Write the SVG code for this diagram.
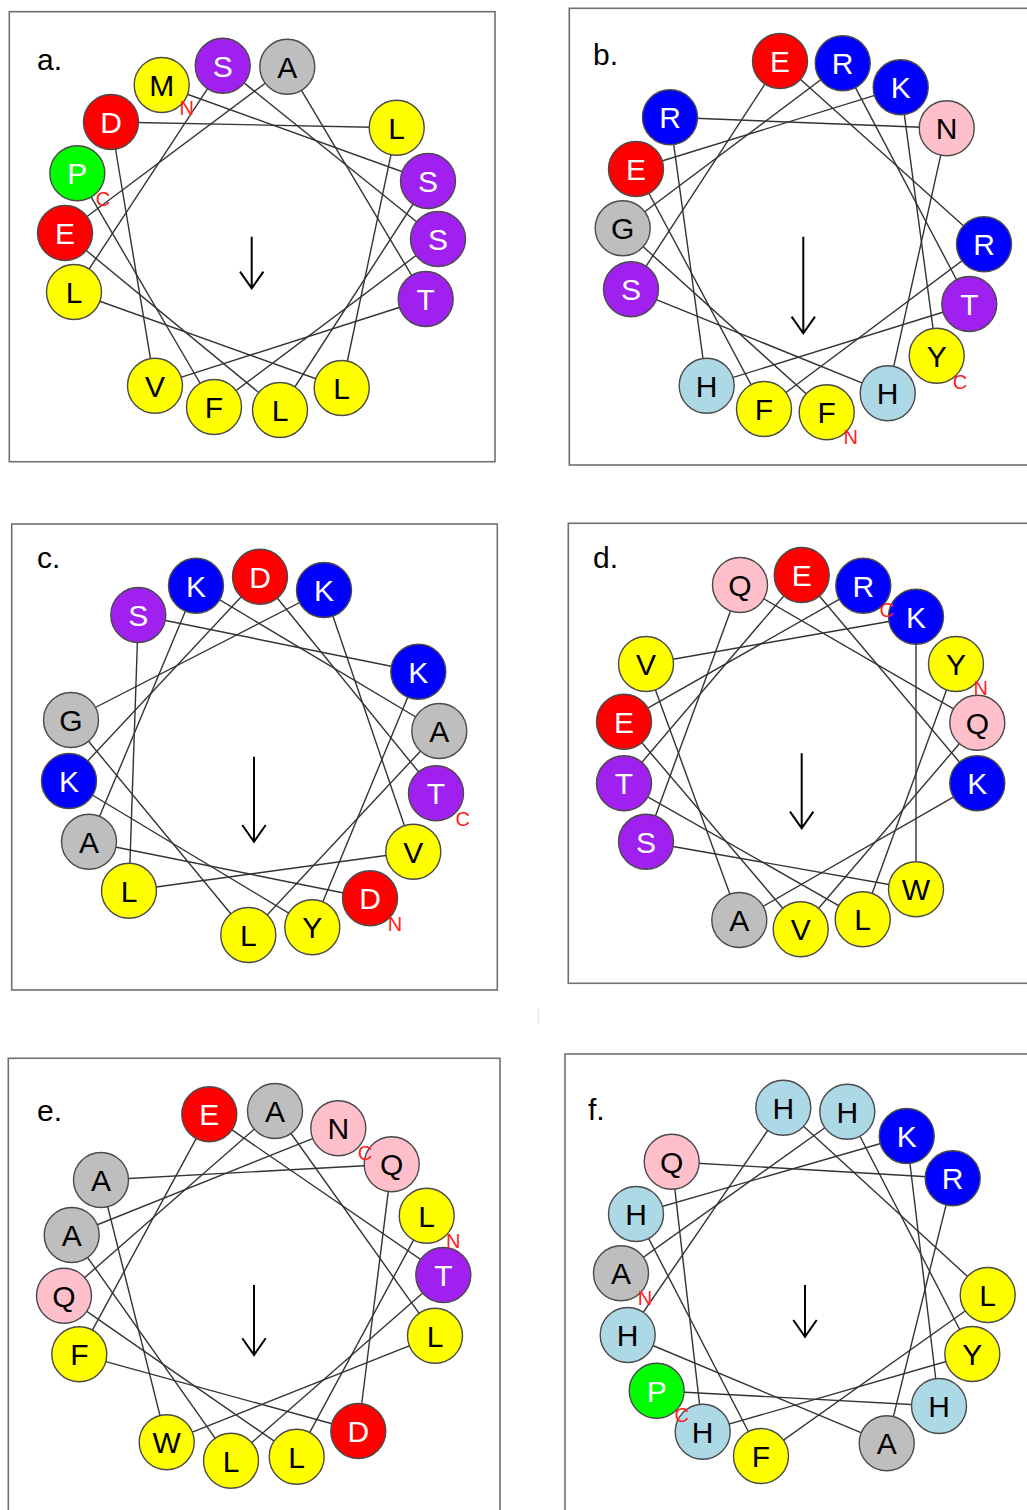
<svg xmlns="http://www.w3.org/2000/svg" width="1027" height="1510" viewBox="0 0 1027 1510">
<style>
.bg{fill:#fff}
.box{fill:none;stroke:#707070;stroke-width:1.6}
.lbl{font-family:"Liberation Sans",Arial,sans-serif;font-size:30px;fill:#000}
.con line{stroke:#333;stroke-width:1.4}
.res circle{stroke:#4a4a4a;stroke-width:1.4}
.res text{font-family:"Liberation Sans",Arial,sans-serif;font-size:30px;text-anchor:middle}
.y circle{fill:#FFFF00}.y text{fill:#000}
.r circle{fill:#FF0000}.r text{fill:#fff}
.b circle{fill:#0000FF}.b text{fill:#fff}
.p circle{fill:#A020F0}.p text{fill:#fff}
.g circle{fill:#BEBEBE}.g text{fill:#000}
.gr circle{fill:#00FF00}.gr text{fill:#fff}
.lb circle{fill:#ADD8E6}.lb text{fill:#000}
.pk circle{fill:#FFC0CB}.pk text{fill:#000}
.term{font-family:"Liberation Sans",Arial,sans-serif;font-size:20px;fill:#FF2020;text-anchor:middle}
.arrow{stroke:#000;stroke-width:2;fill:none}
</style>
<rect class="bg" x="0" y="0" width="1027" height="1510"/>
<line x1="538.5" y1="1009" x2="538.5" y2="1024" stroke="#e4e4e4" stroke-width="1.5"/>

<!-- Panel a -->
<g id="panel-a">
<rect class="box" x="9.3" y="11.7" width="485.7" height="450"/>
<text class="lbl" x="37" y="70">a.</text>
<g id="a-connectors" class="con">
<line x1="161.7" y1="85" x2="428" y2="181"/>
<line x1="428" y1="181" x2="280" y2="410"/>
<line x1="280" y1="410" x2="65" y2="233"/>
<line x1="65" y1="233" x2="287.3" y2="66.7"/>
<line x1="287.3" y1="66.7" x2="425.7" y2="299"/>
<line x1="425.7" y1="299" x2="155" y2="385.7"/>
<line x1="155" y1="385.7" x2="111" y2="122"/>
<line x1="111" y1="122" x2="396.7" y2="127.7"/>
<line x1="396.7" y1="127.7" x2="341.7" y2="388"/>
<line x1="341.7" y1="388" x2="74" y2="292"/>
<line x1="74" y1="292" x2="222.7" y2="65.7"/>
<line x1="222.7" y1="65.7" x2="438" y2="239"/>
<line x1="438" y1="239" x2="214" y2="407"/>
<line x1="214" y1="407" x2="77.3" y2="173.3"/>
</g>
<path class="arrow" d="M251.7 236.7V288.3M240 271.7L251.7 288.3L263.4 271.7"/>
<g id="a15" class="res gr" transform="translate(77.3,173.3)"><circle r="27.5"/><text y="10.8">P</text></g>
<g id="a14" class="res y" transform="translate(214,407)"><circle r="27.5"/><text y="10.8">F</text></g>
<g id="a13" class="res p" transform="translate(438,239)"><circle r="27.5"/><text y="10.8">S</text></g>
<g id="a12" class="res p" transform="translate(222.7,65.7)"><circle r="27.5"/><text y="10.8">S</text></g>
<g id="a11" class="res y" transform="translate(74,292)"><circle r="27.5"/><text y="10.8">L</text></g>
<g id="a10" class="res y" transform="translate(341.7,388)"><circle r="27.5"/><text y="10.8">L</text></g>
<g id="a9" class="res y" transform="translate(396.7,127.7)"><circle r="27.5"/><text y="10.8">L</text></g>
<g id="a8" class="res r" transform="translate(111,122)"><circle r="27.5"/><text y="10.8">D</text></g>
<g id="a7" class="res y" transform="translate(155,385.7)"><circle r="27.5"/><text y="10.8">V</text></g>
<g id="a6" class="res p" transform="translate(425.7,299)"><circle r="27.5"/><text y="10.8">T</text></g>
<g id="a5" class="res g" transform="translate(287.3,66.7)"><circle r="27.5"/><text y="10.8">A</text></g>
<g id="a4" class="res r" transform="translate(65,233)"><circle r="27.5"/><text y="10.8">E</text></g>
<g id="a3" class="res y" transform="translate(280,410)"><circle r="27.5"/><text y="10.8">L</text></g>
<g id="a2" class="res p" transform="translate(428,181)"><circle r="27.5"/><text y="10.8">S</text></g>
<g id="a1" class="res y" transform="translate(161.7,85)"><circle r="27.5"/><text y="10.8">M</text></g>
<text class="term" x="186.7" y="115">N</text>
<text class="term" x="103" y="206">C</text>
</g>

<!-- Panel b -->
<g id="panel-b">
<rect class="box" x="569.3" y="8.3" width="480" height="456.7"/>
<text class="lbl" x="593" y="65">b.</text>
<g id="b-connectors" class="con">
<line x1="826.7" y1="412.3" x2="622.7" y2="228.3"/>
<line x1="622.7" y1="228.3" x2="842.7" y2="63.3"/>
<line x1="842.7" y1="63.3" x2="969.3" y2="304"/>
<line x1="969.3" y1="304" x2="706.7" y2="385.7"/>
<line x1="706.7" y1="385.7" x2="670" y2="117.3"/>
<line x1="670" y1="117.3" x2="946.7" y2="128.3"/>
<line x1="946.7" y1="128.3" x2="887.7" y2="393.3"/>
<line x1="887.7" y1="393.3" x2="631" y2="289.3"/>
<line x1="631" y1="289.3" x2="780" y2="61"/>
<line x1="780" y1="61" x2="984" y2="244.3"/>
<line x1="984" y1="244.3" x2="764" y2="409"/>
<line x1="764" y1="409" x2="636" y2="169"/>
<line x1="636" y1="169" x2="900.7" y2="87.3"/>
<line x1="900.7" y1="87.3" x2="936.7" y2="355.7"/>
</g>
<path class="arrow" d="M803.3 236.7V333.3M791.6 316.7L803.3 333.3L815 316.7"/>
<g id="b15" class="res y" transform="translate(936.7,355.7)"><circle r="27.5"/><text y="10.8">Y</text></g>
<g id="b14" class="res b" transform="translate(900.7,87.3)"><circle r="27.5"/><text y="10.8">K</text></g>
<g id="b13" class="res r" transform="translate(636,169)"><circle r="27.5"/><text y="10.8">E</text></g>
<g id="b12" class="res y" transform="translate(764,409)"><circle r="27.5"/><text y="10.8">F</text></g>
<g id="b11" class="res b" transform="translate(984,244.3)"><circle r="27.5"/><text y="10.8">R</text></g>
<g id="b10" class="res r" transform="translate(780,61)"><circle r="27.5"/><text y="10.8">E</text></g>
<g id="b9" class="res p" transform="translate(631,289.3)"><circle r="27.5"/><text y="10.8">S</text></g>
<g id="b8" class="res lb" transform="translate(887.7,393.3)"><circle r="27.5"/><text y="10.8">H</text></g>
<g id="b7" class="res pk" transform="translate(946.7,128.3)"><circle r="27.5"/><text y="10.8">N</text></g>
<g id="b6" class="res b" transform="translate(670,117.3)"><circle r="27.5"/><text y="10.8">R</text></g>
<g id="b5" class="res lb" transform="translate(706.7,385.7)"><circle r="27.5"/><text y="10.8">H</text></g>
<g id="b4" class="res p" transform="translate(969.3,304)"><circle r="27.5"/><text y="10.8">T</text></g>
<g id="b3" class="res b" transform="translate(842.7,63.3)"><circle r="27.5"/><text y="10.8">R</text></g>
<g id="b2" class="res g" transform="translate(622.7,228.3)"><circle r="27.5"/><text y="10.8">G</text></g>
<g id="b1" class="res y" transform="translate(826.7,412.3)"><circle r="27.5"/><text y="10.8">F</text></g>
<text class="term" x="850.7" y="444.3">N</text>
<text class="term" x="960" y="388.7">C</text>
</g>

<!-- Panel c -->
<g id="panel-c">
<rect class="box" x="11.7" y="524" width="485.6" height="466"/>
<text class="lbl" x="37" y="568">c.</text>
<g id="c-connectors" class="con">
<line x1="370" y1="898.3" x2="89" y2="841.7"/>
<line x1="89" y1="841.7" x2="196" y2="585.7"/>
<line x1="196" y1="585.7" x2="439.3" y2="731"/>
<line x1="439.3" y1="731" x2="248.3" y2="935"/>
<line x1="248.3" y1="935" x2="71" y2="720"/>
<line x1="71" y1="720" x2="324" y2="590"/>
<line x1="324" y1="590" x2="413.3" y2="851.7"/>
<line x1="413.3" y1="851.7" x2="129" y2="890.7"/>
<line x1="129" y1="890.7" x2="138.3" y2="615"/>
<line x1="138.3" y1="615" x2="418.3" y2="671.7"/>
<line x1="418.3" y1="671.7" x2="312.3" y2="927.3"/>
<line x1="312.3" y1="927.3" x2="69" y2="781"/>
<line x1="69" y1="781" x2="260" y2="576.7"/>
<line x1="260" y1="576.7" x2="436" y2="793.3"/>
</g>
<path class="arrow" d="M254 756.7V841.7M242.3 825L254 841.7L265.7 825"/>
<g id="c15" class="res p" transform="translate(436,793.3)"><circle r="27.5"/><text y="10.8">T</text></g>
<g id="c14" class="res r" transform="translate(260,576.7)"><circle r="27.5"/><text y="10.8">D</text></g>
<g id="c13" class="res b" transform="translate(69,781)"><circle r="27.5"/><text y="10.8">K</text></g>
<g id="c12" class="res y" transform="translate(312.3,927.3)"><circle r="27.5"/><text y="10.8">Y</text></g>
<g id="c11" class="res b" transform="translate(418.3,671.7)"><circle r="27.5"/><text y="10.8">K</text></g>
<g id="c10" class="res p" transform="translate(138.3,615)"><circle r="27.5"/><text y="10.8">S</text></g>
<g id="c9" class="res y" transform="translate(129,890.7)"><circle r="27.5"/><text y="10.8">L</text></g>
<g id="c8" class="res y" transform="translate(413.3,851.7)"><circle r="27.5"/><text y="10.8">V</text></g>
<g id="c7" class="res b" transform="translate(324,590)"><circle r="27.5"/><text y="10.8">K</text></g>
<g id="c6" class="res g" transform="translate(71,720)"><circle r="27.5"/><text y="10.8">G</text></g>
<g id="c5" class="res y" transform="translate(248.3,935)"><circle r="27.5"/><text y="10.8">L</text></g>
<g id="c4" class="res g" transform="translate(439.3,731)"><circle r="27.5"/><text y="10.8">A</text></g>
<g id="c3" class="res b" transform="translate(196,585.7)"><circle r="27.5"/><text y="10.8">K</text></g>
<g id="c2" class="res g" transform="translate(89,841.7)"><circle r="27.5"/><text y="10.8">A</text></g>
<g id="c1" class="res r" transform="translate(370,898.3)"><circle r="27.5"/><text y="10.8">D</text></g>
<text class="term" x="395" y="931.3">N</text>
<text class="term" x="462.7" y="826">C</text>
</g>

<!-- Panel d -->
<g id="panel-d">
<rect class="box" x="568.3" y="523.3" width="480" height="460"/>
<text class="lbl" x="593" y="568">d.</text>
<g id="d-connectors" class="con">
<line x1="956" y1="664" x2="862.7" y2="919.3"/>
<line x1="862.7" y1="919.3" x2="624" y2="783.3"/>
<line x1="624" y1="783.3" x2="801.7" y2="575"/>
<line x1="801.7" y1="575" x2="977.3" y2="783.3"/>
<line x1="977.3" y1="783.3" x2="739.3" y2="920"/>
<line x1="739.3" y1="920" x2="646" y2="664"/>
<line x1="646" y1="664" x2="916" y2="616.7"/>
<line x1="916" y1="616.7" x2="916" y2="889.3"/>
<line x1="916" y1="889.3" x2="646" y2="841.7"/>
<line x1="646" y1="841.7" x2="740" y2="585"/>
<line x1="740" y1="585" x2="977.3" y2="722.7"/>
<line x1="977.3" y1="722.7" x2="800.7" y2="929.3"/>
<line x1="800.7" y1="929.3" x2="624" y2="721.7"/>
<line x1="624" y1="721.7" x2="863.3" y2="585.7"/>
</g>
<path class="arrow" d="M801.7 753.3V828.3M790 811.6L801.7 828.3L813.4 811.6"/>
<g id="d15" class="res b" transform="translate(863.3,585.7)"><circle r="27.5"/><text y="10.8">R</text></g>
<g id="d14" class="res r" transform="translate(624,721.7)"><circle r="27.5"/><text y="10.8">E</text></g>
<g id="d13" class="res y" transform="translate(800.7,929.3)"><circle r="27.5"/><text y="10.8">V</text></g>
<g id="d12" class="res pk" transform="translate(977.3,722.7)"><circle r="27.5"/><text y="10.8">Q</text></g>
<g id="d11" class="res pk" transform="translate(740,585)"><circle r="27.5"/><text y="10.8">Q</text></g>
<g id="d10" class="res p" transform="translate(646,841.7)"><circle r="27.5"/><text y="10.8">S</text></g>
<g id="d9" class="res y" transform="translate(916,889.3)"><circle r="27.5"/><text y="10.8">W</text></g>
<g id="d8" class="res b" transform="translate(916,616.7)"><circle r="27.5"/><text y="10.8">K</text></g>
<g id="d7" class="res y" transform="translate(646,664)"><circle r="27.5"/><text y="10.8">V</text></g>
<g id="d6" class="res g" transform="translate(739.3,920)"><circle r="27.5"/><text y="10.8">A</text></g>
<g id="d5" class="res b" transform="translate(977.3,783.3)"><circle r="27.5"/><text y="10.8">K</text></g>
<g id="d4" class="res r" transform="translate(801.7,575)"><circle r="27.5"/><text y="10.8">E</text></g>
<g id="d3" class="res p" transform="translate(624,783.3)"><circle r="27.5"/><text y="10.8">T</text></g>
<g id="d2" class="res y" transform="translate(862.7,919.3)"><circle r="27.5"/><text y="10.8">L</text></g>
<g id="d1" class="res y" transform="translate(956,664)"><circle r="27.5"/><text y="10.8">Y</text></g>
<text class="term" x="980.7" y="695.3">N</text>
<text class="term" x="886.7" y="617">C</text>
</g>

<!-- Panel e -->
<g id="panel-e">
<rect class="box" x="8.3" y="1058.3" width="491.7" height="470"/>
<text class="lbl" x="37" y="1121">e.</text>
<g id="e-connectors" class="con">
<line x1="426.7" y1="1215.7" x2="296.7" y2="1456.7"/>
<line x1="296.7" y1="1456.7" x2="64" y2="1295.7"/>
<line x1="64" y1="1295.7" x2="275" y2="1111"/>
<line x1="275" y1="1111" x2="435" y2="1335.7"/>
<line x1="435" y1="1335.7" x2="166.7" y2="1442.3"/>
<line x1="166.7" y1="1442.3" x2="101" y2="1180"/>
<line x1="101" y1="1180" x2="391.7" y2="1164.3"/>
<line x1="391.7" y1="1164.3" x2="358.3" y2="1431"/>
<line x1="358.3" y1="1431" x2="79.3" y2="1354.3"/>
<line x1="79.3" y1="1354.3" x2="209.3" y2="1114.3"/>
<line x1="209.3" y1="1114.3" x2="443.3" y2="1275"/>
<line x1="443.3" y1="1275" x2="231" y2="1460.7"/>
<line x1="231" y1="1460.7" x2="71.7" y2="1235"/>
<line x1="71.7" y1="1235" x2="338.3" y2="1128.3"/>
</g>
<path class="arrow" d="M254 1285V1355M242.3 1338.3L254 1355L265.7 1338.3"/>
<g id="e15" class="res pk" transform="translate(338.3,1128.3)"><circle r="27.5"/><text y="10.8">N</text></g>
<g id="e14" class="res g" transform="translate(71.7,1235)"><circle r="27.5"/><text y="10.8">A</text></g>
<g id="e13" class="res y" transform="translate(231,1460.7)"><circle r="27.5"/><text y="10.8">L</text></g>
<g id="e12" class="res p" transform="translate(443.3,1275)"><circle r="27.5"/><text y="10.8">T</text></g>
<g id="e11" class="res r" transform="translate(209.3,1114.3)"><circle r="27.5"/><text y="10.8">E</text></g>
<g id="e10" class="res y" transform="translate(79.3,1354.3)"><circle r="27.5"/><text y="10.8">F</text></g>
<g id="e9" class="res r" transform="translate(358.3,1431)"><circle r="27.5"/><text y="10.8">D</text></g>
<g id="e8" class="res pk" transform="translate(391.7,1164.3)"><circle r="27.5"/><text y="10.8">Q</text></g>
<g id="e7" class="res g" transform="translate(101,1180)"><circle r="27.5"/><text y="10.8">A</text></g>
<g id="e6" class="res y" transform="translate(166.7,1442.3)"><circle r="27.5"/><text y="10.8">W</text></g>
<g id="e5" class="res y" transform="translate(435,1335.7)"><circle r="27.5"/><text y="10.8">L</text></g>
<g id="e4" class="res g" transform="translate(275,1111)"><circle r="27.5"/><text y="10.8">A</text></g>
<g id="e3" class="res pk" transform="translate(64,1295.7)"><circle r="27.5"/><text y="10.8">Q</text></g>
<g id="e2" class="res y" transform="translate(296.7,1456.7)"><circle r="27.5"/><text y="10.8">L</text></g>
<g id="e1" class="res y" transform="translate(426.7,1215.7)"><circle r="27.5"/><text y="10.8">L</text></g>
<text class="term" x="453.3" y="1247.7">N</text>
<text class="term" x="365" y="1160.3">C</text>
</g>

<!-- Panel f -->
<g id="panel-f">
<rect class="box" x="565" y="1054" width="480" height="470"/>
<text class="lbl" x="588" y="1120">f.</text>
<g id="f-connectors" class="con">
<line x1="621" y1="1273.3" x2="847.3" y2="1111.7"/>
<line x1="847.3" y1="1111.7" x2="972.3" y2="1354"/>
<line x1="972.3" y1="1354" x2="702.7" y2="1431.7"/>
<line x1="702.7" y1="1431.7" x2="671.7" y2="1161.7"/>
<line x1="671.7" y1="1161.7" x2="952.7" y2="1178.3"/>
<line x1="952.7" y1="1178.3" x2="886.7" y2="1443.3"/>
<line x1="886.7" y1="1443.3" x2="627.7" y2="1335"/>
<line x1="627.7" y1="1335" x2="783.3" y2="1107.7"/>
<line x1="783.3" y1="1107.7" x2="987.7" y2="1295"/>
<line x1="987.7" y1="1295" x2="761" y2="1456"/>
<line x1="761" y1="1456" x2="636" y2="1214"/>
<line x1="636" y1="1214" x2="906.7" y2="1136"/>
<line x1="906.7" y1="1136" x2="939" y2="1406"/>
<line x1="939" y1="1406" x2="656.7" y2="1390.7"/>
</g>
<path class="arrow" d="M805 1285V1336.7M793.3 1320L805 1336.7L816.7 1320"/>
<g id="f15" class="res gr" transform="translate(656.7,1390.7)"><circle r="27.5"/><text y="10.8">P</text></g>
<g id="f14" class="res lb" transform="translate(939,1406)"><circle r="27.5"/><text y="10.8">H</text></g>
<g id="f13" class="res b" transform="translate(906.7,1136)"><circle r="27.5"/><text y="10.8">K</text></g>
<g id="f12" class="res lb" transform="translate(636,1214)"><circle r="27.5"/><text y="10.8">H</text></g>
<g id="f11" class="res y" transform="translate(761,1456)"><circle r="27.5"/><text y="10.8">F</text></g>
<g id="f10" class="res y" transform="translate(987.7,1295)"><circle r="27.5"/><text y="10.8">L</text></g>
<g id="f9" class="res lb" transform="translate(783.3,1107.7)"><circle r="27.5"/><text y="10.8">H</text></g>
<g id="f8" class="res lb" transform="translate(627.7,1335)"><circle r="27.5"/><text y="10.8">H</text></g>
<g id="f7" class="res g" transform="translate(886.7,1443.3)"><circle r="27.5"/><text y="10.8">A</text></g>
<g id="f6" class="res b" transform="translate(952.7,1178.3)"><circle r="27.5"/><text y="10.8">R</text></g>
<g id="f5" class="res pk" transform="translate(671.7,1161.7)"><circle r="27.5"/><text y="10.8">Q</text></g>
<g id="f4" class="res lb" transform="translate(702.7,1431.7)"><circle r="27.5"/><text y="10.8">H</text></g>
<g id="f3" class="res y" transform="translate(972.3,1354)"><circle r="27.5"/><text y="10.8">Y</text></g>
<g id="f2" class="res lb" transform="translate(847.3,1111.7)"><circle r="27.5"/><text y="10.8">H</text></g>
<g id="f1" class="res g" transform="translate(621,1273.3)"><circle r="27.5"/><text y="10.8">A</text></g>
<text class="term" x="645" y="1305.3">N</text>
<text class="term" x="681.7" y="1422">C</text>
</g>
</svg>
